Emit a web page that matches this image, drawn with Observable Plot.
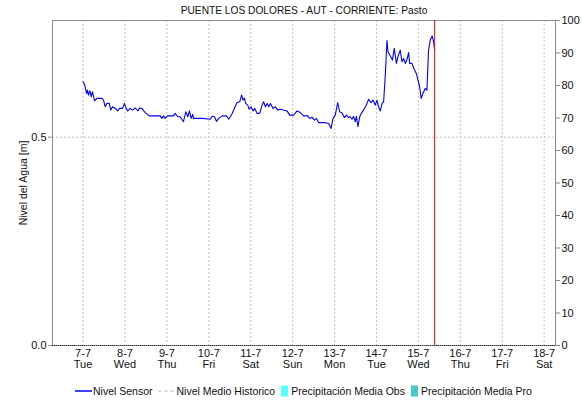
<!DOCTYPE html>
<html><head><meta charset="utf-8">
<script src="https://cdn.jsdelivr.net/npm/d3@7"></script>
<script src="https://cdn.jsdelivr.net/npm/@observablehq/plot@0.6"></script>
<style>body{margin:0;background:#fff;} svg{display:block}</style>
</head><body><div id="chart"></div>
<script>
const titulo = "PUENTE LOS DOLORES - AUT - CORRIENTE: Pasto";
const ejeYTitulo = "Nivel del Agua [m]";
// hours since 2020-07-07 00:00 (UTC) and sensor level in metres
const horas = [0,1,2,2.5,3.1,3.9,4.7,5.4,6.6,7.9,10.8,11.7,12.7,13.6,15,15.9,16.9,18.4,19.9,20.7,22.6,23.7,24.7,25.6,27,28.3,29.9,31.4,32.3,33.6,35.6,37.9,44.2,45.1,46.1,47,48.3,51.8,52.7,54.2,55.6,57.5,58.8,60,60.9,61.9,62.8,63.2,68.4,
72.9,73.9,75.2,76.4,77.7,79.6,82.1,83.4,85.4,87.2,88.2,89.7,90.8,91.6,92.4,93.1,94.3,95.1,96.2,97.4,98.3,99.7,101.1,102.5,103.4,104.4,105.4,106.3,107.3,108.8,110.1,111.4,113,116.8,118.3,120.6,122.5,124.4,126.3,128.6,129.7,131.1,132.4,133.6,134.9,138.2,
140.6,142,143.1,144.4,145.8,146.9,148.3,149.6,150.7,152.1,153,154,154.9,155.9,156.5,157.4,158.4,159.3,160.6,162.2,163.5,164.9,166,167.3,168.3,169.2,170.2,171.2,172.1,173.1,174,174.6,175.9,177.1,178.2,179.4,180.3,181.6,182.6,183.5,184.5,185.5,186.4,187,188.3,189.6,190.8,191.5,192.7,193.6,194.6,195.9,196.9,197.8,198.8,199.9,200.7,201.3];
const nivel = [0.633,0.625,0.605,0.613,0.601,0.611,0.597,0.609,0.587,0.593,0.593,0.589,0.573,0.581,0.581,0.565,0.573,0.569,0.563,0.569,0.569,0.581,0.569,0.563,0.569,0.565,0.570,0.563,0.570,0.569,0.559,0.551,0.551,0.545,0.551,0.545,0.551,0.551,0.557,0.549,0.549,0.537,0.561,0.549,0.563,0.545,0.555,0.545,0.545,
0.543,0.550,0.549,0.538,0.545,0.551,0.551,0.543,0.557,0.575,0.583,0.585,0.601,0.589,0.594,0.581,0.577,0.567,0.573,0.563,0.569,0.557,0.557,0.577,0.585,0.573,0.581,0.573,0.581,0.569,0.573,0.565,0.567,0.563,0.553,0.553,0.563,0.559,0.551,0.551,0.545,0.548,0.541,0.545,0.535,0.535,
0.533,0.521,0.545,0.553,0.583,0.561,0.558,0.547,0.553,0.547,0.549,0.543,0.550,0.537,0.550,0.525,0.549,0.557,0.565,0.577,0.591,0.583,0.589,0.577,0.589,0.573,0.563,0.581,0.585,0.653,0.732,0.705,0.695,0.685,0.713,0.677,0.693,0.709,0.681,0.689,0.677,0.687,0.703,0.677,0.677,0.663,0.653,0.641,0.621,0.593,0.605,0.617,0.613,0.708,0.733,0.743,0.729,0.709];
const diasEtiquetas = ["7-7","8-7","9-7","10-7","11-7","12-7","13-7","14-7","15-7","16-7","17-7","18-7"];
const diasSemana = ["Tue","Wed","Thu","Fri","Sat","Sun","Mon","Tue","Wed","Thu","Fri","Sat"];
const ticksIzq = [0, 0.5];
const ticksDer = [0,10,20,30,40,50,60,70,80,90,100];
const ahoraHoras = 201.3;
const leyendaNombres = ["Nivel Sensor","Nivel Medio Historico","Precipitación Media Obs","Precipitación Media Pro"];
const leyendaColores = ["#0000ff","#b4b4b4","#55ffff","#44c8c8"];

const H = 3600e3;
const inicio = Date.UTC(2020,6,7);
const yMax = 0.78;
const datos = horas.map((h,i)=>({t:new Date(inicio+h*H), v:nivel[i]}));
const dias = diasEtiquetas.map((_,i)=>new Date(inicio+i*24*H));
const diaIdx = d => Math.round((+d - inicio)/(24*H));

const chart = Plot.plot({
  width:582, height:404, marginLeft:52, marginRight:27, marginTop:20, marginBottom:59,
  style:{fontFamily:"'Liberation Sans', Arial, sans-serif", fontSize:"11px", color:"#111", background:"#fff"},
  x:{type:"utc", domain:[new Date(inicio-17.5*H), new Date(inicio+(11*24+6.5)*H)]},
  y:{domain:[0,yMax]},
  marks:[
    Plot.ruleX(dias,{stroke:"#c4c4c4", strokeDasharray:"2,2"}),
    Plot.ruleY([0.5],{stroke:"#c4c4c4", strokeDasharray:"2,2"}),
    Plot.frame({stroke:"#8a8a8a"}),
    Plot.ruleY([0],{stroke:"#333", strokeDasharray:"1,1"}),
    Plot.line(datos,{x:"t",y:"v",stroke:"#0000ff",strokeWidth:1.1}),
    Plot.ruleX([new Date(inicio+ahoraHoras*H)],{stroke:"#ff0000",strokeWidth:1}),
    Plot.axisX(dias,{tickSize:0, tickPadding:4, label:null, tickFormat:d=>diasEtiquetas[diaIdx(d)]+"\n"+diasSemana[diaIdx(d)]}),
    Plot.axisY(ticksIzq,{anchor:"left", tickSize:4, tickPadding:2, label:null, tickFormat:d=>d.toFixed(1), stroke:"#8a8a8a"}),
    Plot.axisY(ticksDer.map(v=>v/100*yMax),{anchor:"right", tickSize:4, tickPadding:2, label:null, tickFormat:d=>String(Math.round(d/yMax*100)), stroke:"#8a8a8a"}),
    Plot.text([ejeYTitulo],{frameAnchor:"left", rotate:-90, dx:-29, textAnchor:"middle", lineAnchor:"middle", fontSize:10.5}),
    Plot.text([titulo],{frameAnchor:"top", dy:-10, lineAnchor:"middle", textAnchor:"middle", fontSize:10.2})
  ]
});
document.getElementById("chart").appendChild(chart);

// legend
const svg = d3.select(chart);
const g = svg.append("g").attr("font-family","'Liberation Sans', Arial, sans-serif").attr("font-size",10.5).attr("fill","#111").attr("text-anchor","start");
const ly = 391;
let x = 75;
leyendaNombres.forEach((nombre,i)=>{
  if (i===0) {
    g.append("line").attr("x1",x).attr("x2",x+17).attr("y1",ly).attr("y2",ly).attr("stroke",leyendaColores[i]).attr("stroke-width",1.5);
    x += 18;
  } else if (i===1) {
    g.append("line").attr("x1",x).attr("x2",x+15).attr("y1",ly).attr("y2",ly).attr("stroke",leyendaColores[i]).attr("stroke-dasharray","3,3");
    x += 18;
  } else {
    g.append("rect").attr("x",x).attr("y",ly-5.5).attr("width",7).attr("height",11).attr("fill",leyendaColores[i]);
    x += 10;
  }
  const t = g.append("text").attr("x",x).attr("y",ly).attr("dy","0.35em").attr("text-anchor","start").text(nombre);
  x += t.node().getComputedTextLength() + 6;
});
</script>
</body></html>
